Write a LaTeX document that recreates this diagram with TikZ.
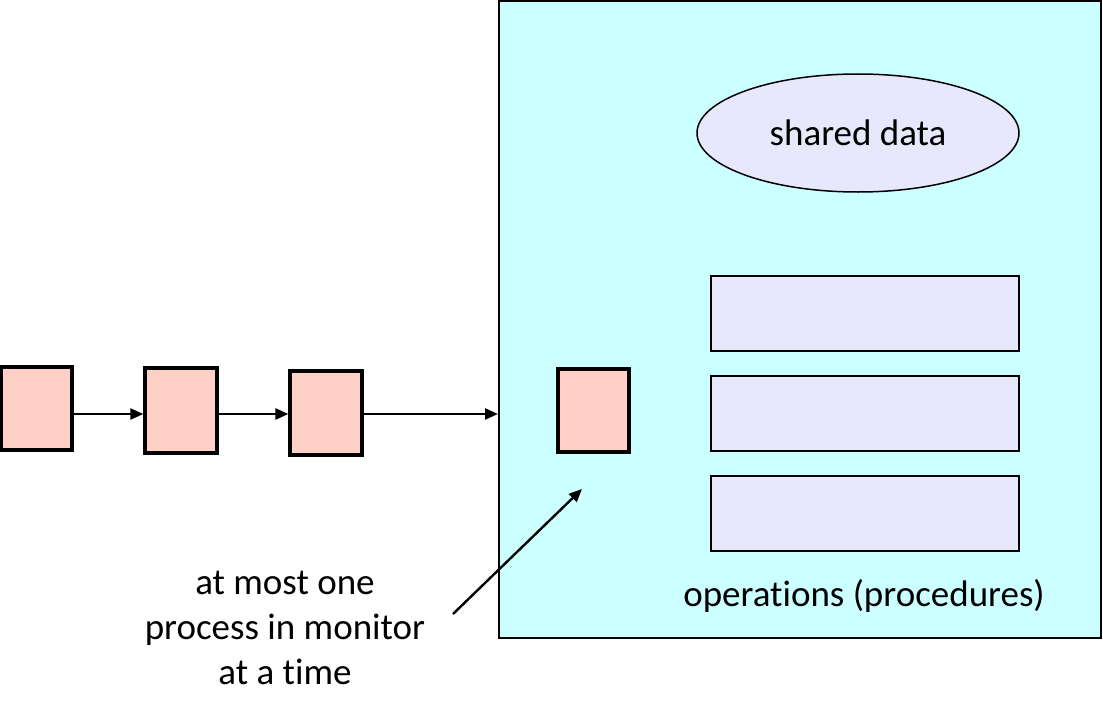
\documentclass[tikz,border=0pt]{standalone}
\usepackage{fontspec}
\setmainfont[RawFeature={-liga}]{Carlito}
\usetikzlibrary{arrows.meta,shapes.geometric}
\definecolor{pinkfill}{HTML}{FFD0C6}
\definecolor{monfill}{HTML}{CCFFFF}
\definecolor{lavfill}{HTML}{E8E8FC}
\tikzset{
  procbox/.style={draw=black, line width=3.2pt, fill=pinkfill, inner sep=0pt, minimum width=71pt, minimum height=83pt},
  opbox/.style={draw=black, line width=1.2pt, fill=lavfill, inner sep=0pt, minimum width=308pt, minimum height=75pt},
  conn/.style={line width=2.4pt, -{Triangle[length=13pt,width=11pt]}},
  txt/.style={font=\fontsize{37}{45}\selectfont, inner sep=0pt, align=center}
}
\begin{document}
\begin{tikzpicture}[x=1pt,y=-1pt]
\useasboundingbox (0,0) rectangle (1103,717);
\node[draw=black, line width=2pt, fill=monfill, minimum width=602pt, minimum height=637pt, inner sep=0pt] (mon) at (800,319.5) {};
\node[procbox] (p1) at (36.5,408.5) {};
\node[procbox, minimum width=72pt, minimum height=85pt] (p2) at (181,410.5) {};
\node[procbox, minimum width=72pt, minimum height=84pt] (p3) at (326,413) {};
\node[procbox] (p4) at (593.5,410.5) {};
\node[ellipse, draw=black, line width=1.5pt, fill=lavfill, minimum width=322pt, minimum height=118pt, inner sep=0pt, txt] (sd) at (858,133) {shared data};
\node[opbox] (o1) at (865,313.5) {};
\node[opbox] (o2) at (865,413.5) {};
\node[opbox] (o3) at (865,513.5) {};
\node[txt] (ops) at (864,596) {operations (procedures)};
\node[txt] (lbl) at (285,628) {at most one\\process in monitor\\at a time};
\coordinate (ls) at (453,614);
\coordinate (le) at (582,489);
\draw[conn] (p1.east |- 0,414) -- (p2.west |- 0,414);
\draw[conn] (p2.east |- 0,414) -- (p3.west |- 0,414);
\draw[conn] (p3.east |- 0,414) -- (mon.west |- 0,414);
\draw[conn] (ls) -- (le);
\end{tikzpicture}
\end{document}
